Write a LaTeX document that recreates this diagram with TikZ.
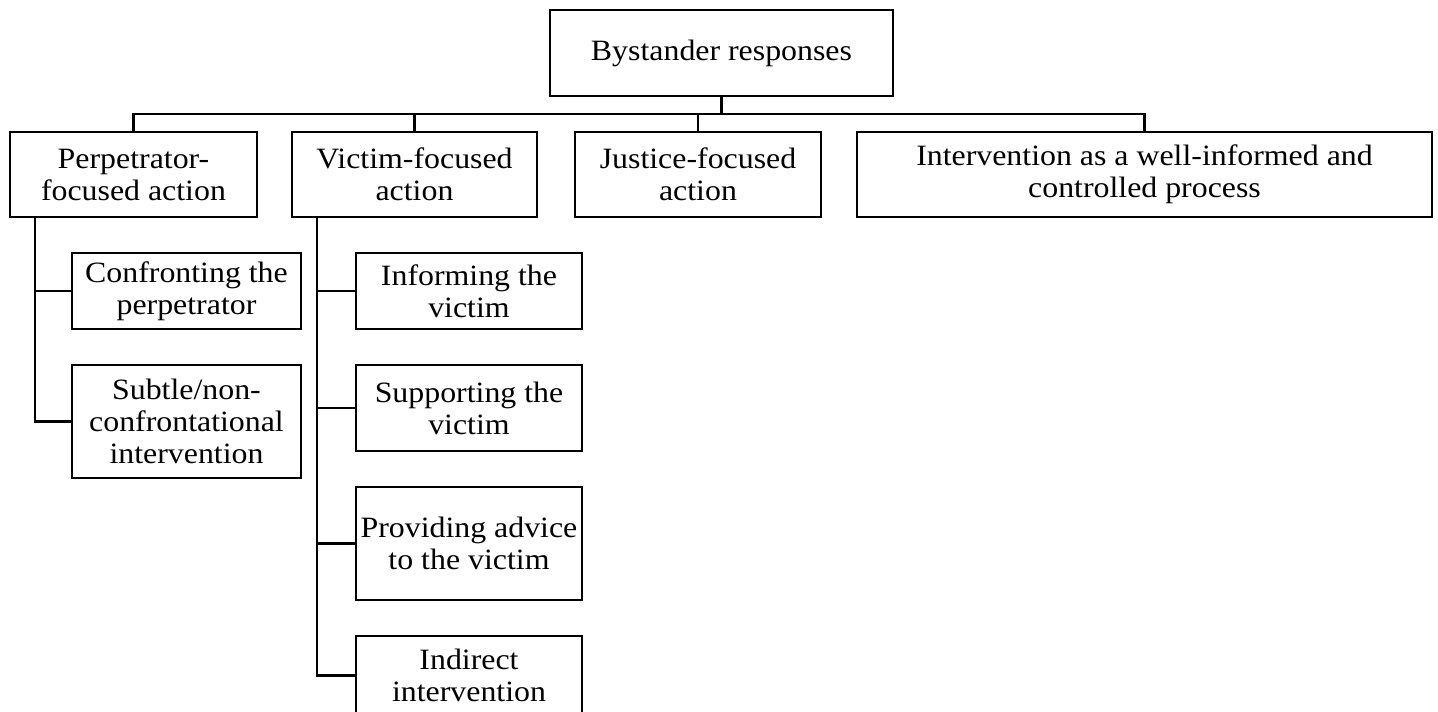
\documentclass[tikz,border=0pt]{standalone}
\usepackage{fontspec}
\setmainfont{Liberation Serif}[FakeStretch=1.08]
\tikzset{
  box/.style={draw, line width=1.25pt, align=center, inner sep=0pt,
    font=\fontsize{14.75pt}{16pt}\selectfont},
  conn/.style={line width=1.25pt}
}
\begin{document}
\begin{tikzpicture}[x=0.5pt,y=-0.5pt]
\useasboundingbox (0,0) rectangle (1438,711);
% level 0
\node[box, minimum width=171.5pt, minimum height=43pt] (root) at (721.5,53) {Bystander responses};
% level 1
\node[box, minimum width=123.5pt, minimum height=42.5pt] (perp) at (133.5,174.5) {Perpetrator-\\focused action};
\node[box, minimum width=122.5pt, minimum height=42.5pt] (vic) at (414.5,174.5) {Victim-focused\\action};
\node[box, minimum width=123pt, minimum height=42.5pt] (just) at (698,174.5) {Justice-focused\\action};
\node[box, minimum width=287.5pt, minimum height=42.5pt] (intv) at (1144.5,174.5) {Intervention as a well-informed and\\controlled process};
% perpetrator children
\node[box, minimum width=114.5pt, minimum height=38pt] (conf) at (186.5,291) {Confronting the\\perpetrator};
\node[box, minimum width=114.5pt, minimum height=56.5pt] (subtle) at (186.5,421.5) {Subtle/non-\\confrontational\\intervention};
% victim children
\node[box, minimum width=113pt, minimum height=38pt] (inf) at (469,291) {Informing the\\victim};
\node[box, minimum width=113pt, minimum height=43pt] (sup) at (469,408) {Supporting the\\victim};
\node[box, minimum width=113pt, minimum height=56.5pt] (prov) at (469,543.5) {Providing advice\\to the victim};
\node[box, minimum width=113pt, minimum height=39.5pt] (ind) at (469,675.5) {Indirect\\intervention};
% bus
\draw[conn] (root.south) -- ++(0,17) coordinate (bus);
\draw[conn] (perp.north) |- (bus) -| (intv.north);
\draw[conn] (vic.north) -- (vic.north |- bus);
\draw[conn] (just.north) -- (just.north |- bus);
% perpetrator stem
\draw[conn] ([xshift=13pt]perp.south west) |- (subtle.west);
\draw[conn] ([xshift=13pt]perp.south west) |- (conf.west);
% victim stem
\draw[conn] ([xshift=13pt]vic.south west) |- (ind.west);
\draw[conn] ([xshift=13pt]vic.south west) |- (inf.west);
\draw[conn] ([xshift=13pt]vic.south west) |- (sup.west);
\draw[conn] ([xshift=13pt]vic.south west) |- (prov.west);
\end{tikzpicture}
\end{document}
